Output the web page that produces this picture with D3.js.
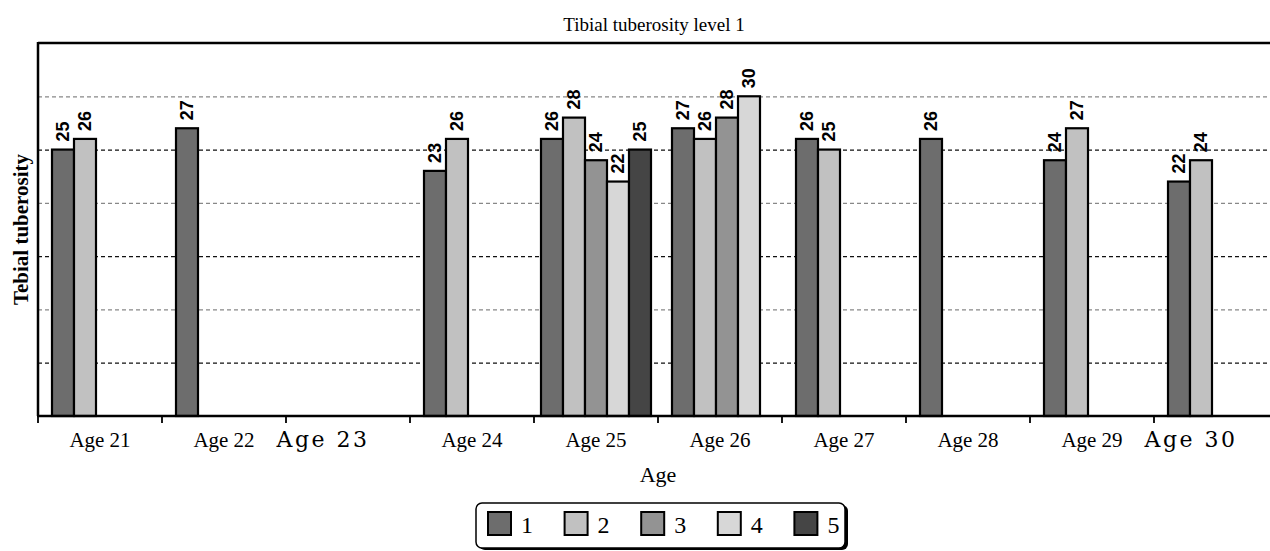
<!DOCTYPE html>
<html><head><meta charset="utf-8">
<script src="https://cdn.jsdelivr.net/npm/d3@7/dist/d3.min.js"></script>
<style>body{margin:0;background:#fff} svg{display:block;overflow:hidden}</style>
</head><body><svg id="c" width="1270" height="551"></svg>
<script>
const categories = ["Age 21","Age 22","Age 23","Age 24","Age 25","Age 26","Age 27","Age 28","Age 29","Age 30"];
const seriesNames = ["1","2","3","4","5"];
const s1 = [25, 27, null, 23, 26, 27, 26, 26, 24, 22];
const s2 = [26, null, null, 26, 28, 26, 25, null, 27, 24];
const s3 = [null, null, null, null, 24, 28, null, null, null, null];
const s4 = [null, null, null, null, 22, 30, null, null, null, null];
const s5 = [null, null, null, null, 25, null, null, null, null, null];
const gridTicks = [5, 10, 15, 20, 25, 30];
const yMax = 35;
const chartTitle = "Tibial tuberosity level 1";
const xTitle = "Age";
const yTitle = "Tebial tuberosity";
const altFontCats = ["Age 23", "Age 30"];

const series = [s1, s2, s3, s4, s5];
const colors = ["#6d6d6d", "#c1c1c1", "#939393", "#d7d7d7", "#454545"];
const m = {left: 38, top: 43, right: 1278, bottom: 416};

const svg = d3.select("#c");
const x = d3.scaleBand().domain(categories).range([m.left, m.right]).padding(0);
const xs = d3.scaleBand().domain(seriesNames).range([0, 110]);
const y = d3.scaleLinear().domain([0, yMax]).range([m.bottom, m.top]);

// gridlines
const grid = svg.append("g").attr("transform", `translate(${m.left},0)`)
  .call(d3.axisLeft(y).tickValues(gridTicks).tickSize(-(m.right - m.left)).tickFormat(""));
grid.select(".domain").remove();
grid.selectAll(".tick line")
  .attr("stroke", (d) => (d % 10 === 5 ? "#111" : "#888"))
  .attr("stroke-width", 1.2)
  .attr("stroke-dasharray", "4,3");

// bars
const bw = x.bandwidth(), sw = xs.bandwidth();
const barData = [];
categories.forEach((c, ci) => {
  const present = series.map((s, si) => ({si, v: s[ci]})).filter(d => d.v != null);
  const off = Math.min(14, (bw - present.length * sw) / 2);
  present.forEach(d => barData.push({c, si: d.si, v: d.v, x: x(c) + off + xs(seriesNames[d.si])}));
});
svg.append("g").selectAll("rect").data(barData).join("rect")
  .attr("x", d => d.x).attr("y", d => y(d.v))
  .attr("width", sw).attr("height", d => y(0) - y(d.v))
  .attr("fill", d => colors[d.si]).attr("stroke", "#000").attr("stroke-width", 2.2);

// value labels
svg.append("g").selectAll("text").data(barData).join("text")
  .attr("transform", d => `translate(${d.x + sw / 2},${y(d.v) - 8}) rotate(-90)`)
  .attr("dy", "0.36em")
  .attr("font-family", "Liberation Sans, Arial, sans-serif")
  .attr("font-weight", "bold").attr("font-size", 18)
  .text(d => d.v);

// frame
svg.append("line").attr("x1", m.left).attr("x2", 1270).attr("y1", m.top).attr("y2", m.top)
  .attr("stroke", "#000").attr("stroke-width", 2.5);
svg.append("line").attr("x1", m.left).attr("x2", m.left).attr("y1", m.top - 1).attr("y2", m.bottom)
  .attr("stroke", "#000").attr("stroke-width", 2.5);

// x axis
const xa = svg.append("g").attr("transform", `translate(0,${m.bottom})`);
xa.append("line").attr("x1", m.left - 1).attr("x2", 1270).attr("stroke", "#000").attr("stroke-width", 2.5);
xa.selectAll(".tk").data(categories).join("line").attr("class", "tk")
  .attr("x1", d => x(d)).attr("x2", d => x(d)).attr("y1", 0).attr("y2", 7)
  .attr("stroke", "#000").attr("stroke-width", 1.8);
xa.selectAll(".lb").data(categories).join("text").attr("class", "lb")
  .attr("x", d => x(d) + bw / 2 + (altFontCats.includes(d) ? -25 : 0))
  .attr("y", 31)
  .attr("text-anchor", "middle")
  .attr("font-family", d => altFontCats.includes(d) ? "DejaVu Serif, serif" : "Liberation Serif, Times New Roman, serif")
  .attr("font-size", d => altFontCats.includes(d) ? 22 : 21)
  .attr("letter-spacing", d => altFontCats.includes(d) ? 2.5 : 0)
  .text(d => d);

// titles
svg.append("text").attr("x", (m.left + m.right) / 2 - 4).attr("y", 31).attr("text-anchor", "middle")
  .attr("font-family", "Liberation Serif, Times New Roman, serif").attr("font-size", 19).text(chartTitle);
svg.append("text").attr("x", (m.left + m.right) / 2).attr("y", 482).attr("text-anchor", "middle")
  .attr("font-family", "Liberation Serif, Times New Roman, serif").attr("font-size", 22).text(xTitle);
svg.append("text").attr("transform", `translate(28,${(m.top + m.bottom) / 2}) rotate(-90)`)
  .attr("text-anchor", "middle")
  .attr("font-family", "Liberation Serif, Times New Roman, serif").attr("font-weight", "bold")
  .attr("font-size", 21).text(yTitle);

// legend
const lg = svg.append("g");
lg.append("rect").attr("x", 479).attr("y", 505).attr("width", 369).attr("height", 45).attr("rx", 6).attr("fill", "#000");
lg.append("rect").attr("x", 476).attr("y", 503).attr("width", 369).attr("height", 45).attr("rx", 6)
  .attr("fill", "#fff").attr("stroke", "#000").attr("stroke-width", 1.5);
const lx = d3.scaleBand().domain(seriesNames).range([488, 871]);
const items = lg.selectAll(".it").data(seriesNames).join("g").attr("class", "it")
  .attr("transform", d => `translate(${lx(d)},512)`);
items.append("rect").attr("width", 23).attr("height", 23)
  .attr("fill", (d, i) => colors[i]).attr("stroke", "#000").attr("stroke-width", 2);
items.append("text").attr("x", 33).attr("y", 21)
  .attr("font-family", "Liberation Serif, Times New Roman, serif").attr("font-size", 24).text(d => d);
</script>
</body></html>
